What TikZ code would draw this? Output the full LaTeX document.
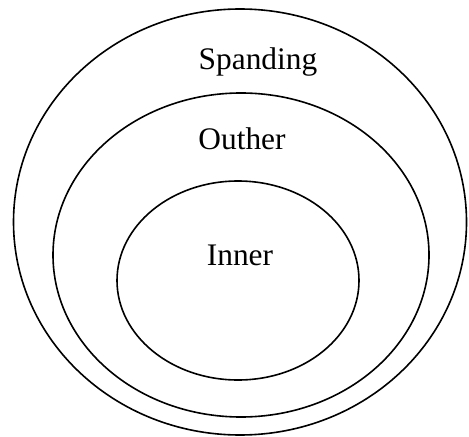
\documentclass[tikz,border=0pt]{standalone}
\usepackage{fontspec}
\setmainfont{Liberation Serif}
\begin{document}
\begin{tikzpicture}[x=1bp,y=-1bp,line width=1.6bp,font=\fontsize{31.5}{36}\selectfont]
\useasboundingbox (0,0) rectangle (469,437);
\draw (240,222) ellipse (226.5 and 213);
\draw (241,255) ellipse (188 and 162);
\draw (238,280.5) ellipse (121 and 99.5);
\node[anchor=base] (spanding) at (258,70) {Spanding};
\node[anchor=base] (outher) at (242,150) {Outher};
\node[anchor=base] (inner) at (240,265) {Inner};
\end{tikzpicture}
\end{document}
